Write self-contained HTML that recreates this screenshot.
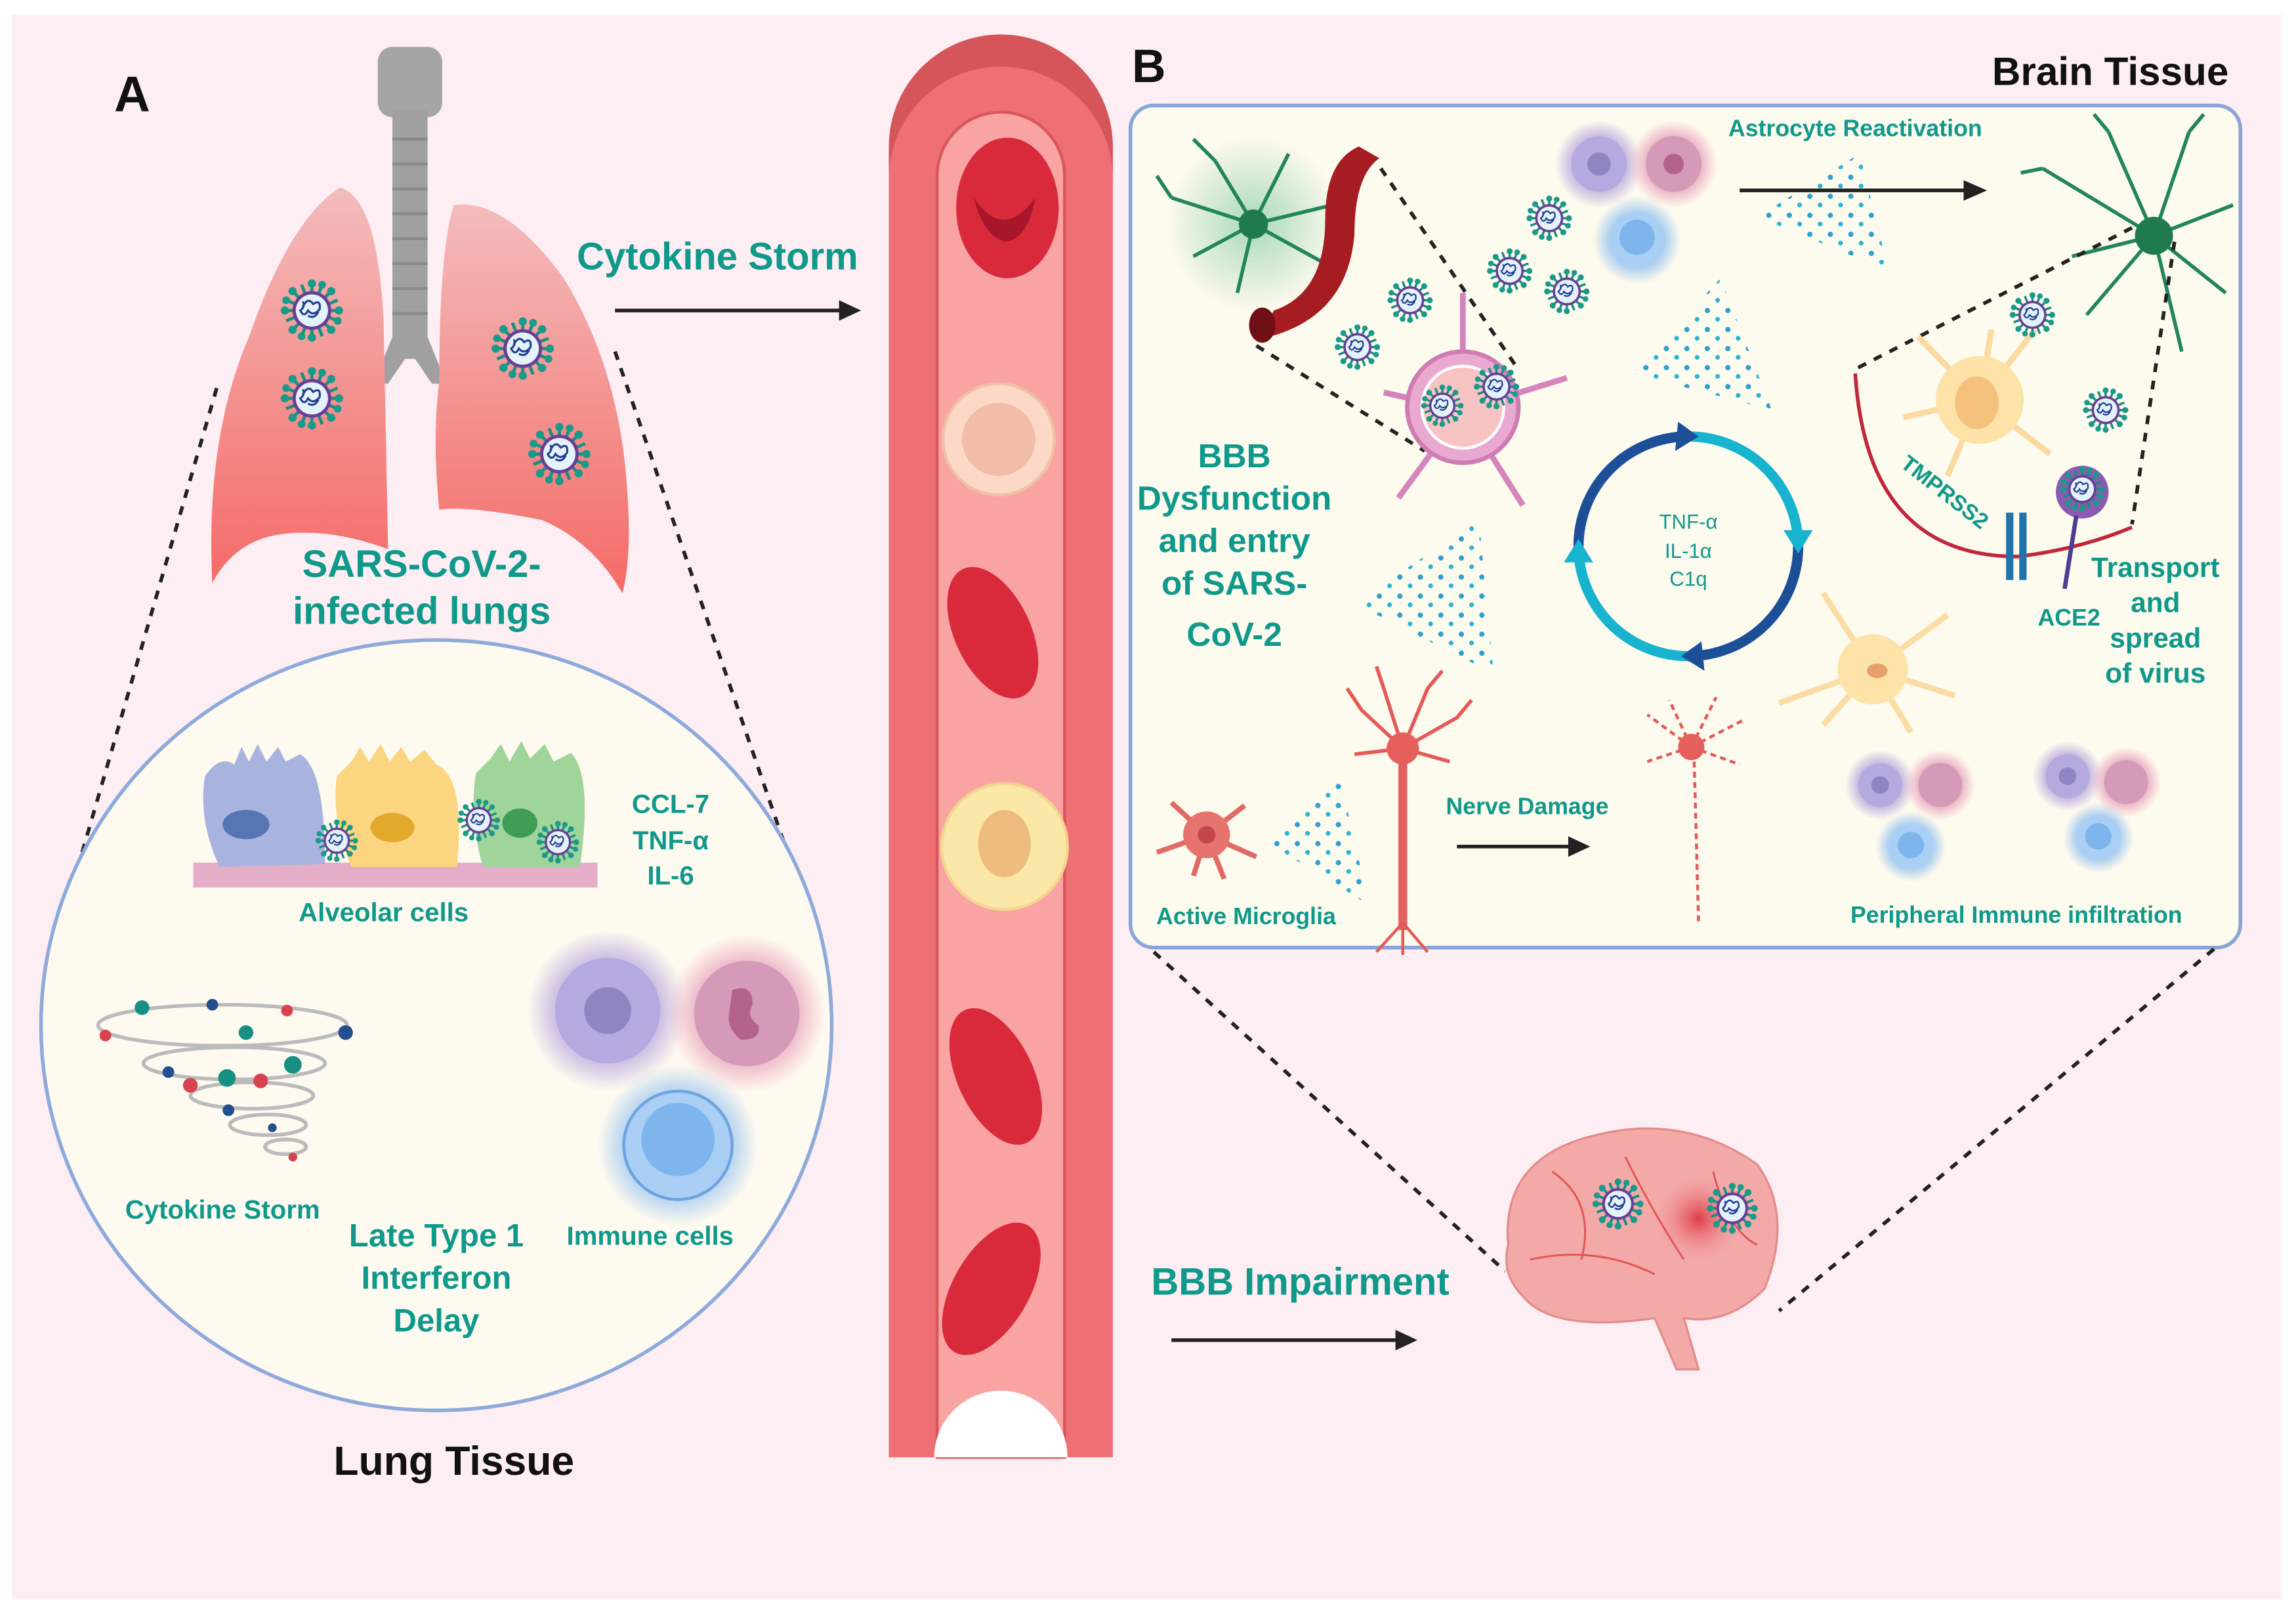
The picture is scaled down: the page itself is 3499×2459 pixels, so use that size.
<!DOCTYPE html>
<html><head><meta charset="utf-8"><style>
html,body{margin:0;padding:0;background:#fff;}
svg{display:block;}
text{font-family:"Liberation Sans",sans-serif;font-weight:bold;}
.t{fill:#10998b;}
</style></head><body>
<svg width="3499" height="2459" viewBox="0 0 1568 1102" preserveAspectRatio="none" xmlns="http://www.w3.org/2000/svg">
<defs>
<linearGradient id="lg" x1="0" y1="0" x2="0" y2="1"><stop offset="0" stop-color="#f3bcbc"/><stop offset="1" stop-color="#f56b67"/></linearGradient>
<radialGradient id="glowP"><stop offset="0.5" stop-color="#b7a5dc"/><stop offset="1" stop-color="#b7a5dc" stop-opacity="0"/></radialGradient>
<radialGradient id="glowR"><stop offset="0.5" stop-color="#d9a0bb"/><stop offset="1" stop-color="#f7a0b8" stop-opacity="0"/></radialGradient>
<radialGradient id="glowB"><stop offset="0.55" stop-color="#9cc6f0"/><stop offset="1" stop-color="#9cc6f0" stop-opacity="0"/></radialGradient>
<radialGradient id="glowG"><stop offset="0" stop-color="#6fc296" stop-opacity="0.6"/><stop offset="1" stop-color="#6fc296" stop-opacity="0"/></radialGradient>
<radialGradient id="redglow"><stop offset="0" stop-color="#d91f2f" stop-opacity="0.8"/><stop offset="1" stop-color="#f3a4a4" stop-opacity="0"/></radialGradient>
<pattern id="dots" width="14" height="13" patternUnits="userSpaceOnUse"><circle cx="4" cy="4" r="1.8" fill="#2f9fd0"/><circle cx="11" cy="10" r="1.6" fill="#2bb3d6"/></pattern>
<symbol id="v" viewBox="-25 -25 50 50">
<g stroke="#1b8f83" stroke-width="2.5"><line x1="0" y1="-22" x2="0" y2="22"/><line x1="-22" y1="0" x2="22" y2="0"/><line x1="-15" y1="-15" x2="15" y2="15"/><line x1="-15" y1="15" x2="15" y2="-15"/><line x1="-8" y1="-20" x2="8" y2="20"/><line x1="-20" y1="-8" x2="20" y2="8"/><line x1="-20" y1="8" x2="20" y2="-8"/><line x1="-8" y1="20" x2="8" y2="-20"/></g>
<g fill="#1b9a8a"><circle cx="0" cy="-21" r="3.2"/><circle cx="0" cy="21" r="3.2"/><circle cx="21" cy="0" r="3.2"/><circle cx="-21" cy="0" r="3.2"/><circle cx="15" cy="15" r="3.2"/><circle cx="-15" cy="-15" r="3.2"/><circle cx="15" cy="-15" r="3.2"/><circle cx="-15" cy="15" r="3.2"/><circle cx="8" cy="-20" r="3"/><circle cx="-8" cy="20" r="3"/><circle cx="20" cy="8" r="3"/><circle cx="-20" cy="-8" r="3"/></g>
<circle r="15" fill="#6a3d96"/><circle r="12.5" fill="#e3f2fb"/>
<path d="M-7 -3 q4 -8 8 -2 q6 -4 5 4 q-5 6 -9 1 q-3 6 -6 0 q4 -3 2 -7 M-3 4 q5 3 8 -3" stroke="#233f8f" stroke-width="1.6" fill="none"/>
</symbol>
</defs>
<rect width="1568" height="1102" fill="#fff"/>
<rect x="8" y="10" width="1550" height="1082" fill="#fdeef4"/>

<text x="78" y="76" font-size="34" fill="#111">A</text>
<rect x="258" y="32" width="44" height="48" rx="10" fill="#a5a5a5"/>
<rect x="268" y="75" width="24" height="170" fill="#a0a0a0"/>
<g stroke="#8a8a8a" stroke-width="2"><line x1="268" y1="95" x2="292" y2="95"/><line x1="268" y1="112" x2="292" y2="112"/><line x1="268" y1="129" x2="292" y2="129"/><line x1="268" y1="146" x2="292" y2="146"/><line x1="268" y1="163" x2="292" y2="163"/><line x1="268" y1="180" x2="292" y2="180"/><line x1="268" y1="197" x2="292" y2="197"/><line x1="268" y1="214" x2="292" y2="214"/></g>
<path d="M268 230 L255 262 L265 262 L280 240 L295 262 L305 262 L292 230 Z" fill="#a0a0a0"/>
<path d="M232 128 Q258 135 262 220 L265 375 Q225 360 190 365 Q160 370 145 398 Q140 300 170 230 Q198 150 232 128Z" fill="url(#lg)"/>
<path d="M310 140 Q345 135 385 190 Q422 250 428 330 Q432 380 425 405 Q405 370 370 355 Q320 345 300 348 Q295 300 300 260 Q300 170 310 140Z" fill="url(#lg)"/>
<use href="#v" x="191" y="190" width="44" height="44"/>
<use href="#v" x="191" y="250" width="44" height="44"/>
<use href="#v" x="335" y="216" width="44" height="44"/>
<use href="#v" x="360" y="288" width="44" height="44"/>
<text class="t" x="288" y="394" font-size="26" text-anchor="middle">SARS-CoV-2-</text>
<text class="t" x="288" y="426" font-size="26" text-anchor="middle">infected lungs</text>
<path d="M148 265 L48 610" stroke="#222" stroke-width="2.5" stroke-dasharray="6,6" fill="none"/>
<path d="M420 240 L548 612" stroke="#222" stroke-width="2.5" stroke-dasharray="6,6" fill="none"/>
<ellipse cx="298" cy="700" rx="270" ry="263" fill="#fefaf0" stroke="#8eaadb" stroke-width="2.5"/>
<rect x="132" y="589" width="276" height="17" fill="#e4adc8"/>
<path d="M140 530 Q150 515 160 522 L165 510 L170 520 L176 508 L182 520 L190 510 L195 520 L205 515 Q222 525 222 590 L150 592 Q135 560 140 530Z" fill="#a9b4de"/>
<ellipse cx="168" cy="563" rx="16" ry="10" fill="#5575b3"/>
<path d="M230 530 L240 520 L246 510 L252 520 L260 508 L266 520 L274 510 L280 520 L290 512 L298 522 Q318 530 312 592 L240 592 Q226 560 230 530Z" fill="#fbd57f"/>
<ellipse cx="268" cy="565" rx="15" ry="10" fill="#e3a92c"/>
<path d="M325 528 L335 518 L342 508 L348 520 L356 506 L362 518 L372 508 L378 520 L390 514 Q405 530 396 592 L330 592 Q320 560 325 528Z" fill="#9fd49b"/>
<ellipse cx="355" cy="562" rx="12" ry="10" fill="#3f9d55"/>
<use href="#v" x="215" y="559" width="30" height="30"/>
<use href="#v" x="312" y="545" width="30" height="30"/>
<use href="#v" x="366" y="560" width="30" height="30"/>
<text class="t" x="458" y="555" font-size="18" text-anchor="middle">CCL-7</text>
<text class="t" x="458" y="580" font-size="18" text-anchor="middle">TNF-α</text>
<text class="t" x="458" y="604" font-size="18" text-anchor="middle">IL-6</text>
<text class="t" x="262" y="629" font-size="18" text-anchor="middle">Alveolar cells</text>
<g fill="none" stroke="#bbb" stroke-width="2.5">
<ellipse cx="152" cy="700" rx="85" ry="14"/><ellipse cx="160" cy="726" rx="62" ry="11"/><ellipse cx="172" cy="748" rx="42" ry="9"/><ellipse cx="183" cy="768" rx="26" ry="7"/><ellipse cx="195" cy="783" rx="14" ry="5"/></g>
<g><circle cx="97" cy="688" r="5" fill="#178f83"/><circle cx="145" cy="686" r="4" fill="#244f8f"/><circle cx="196" cy="690" r="4" fill="#d9434f"/><circle cx="236" cy="705" r="5" fill="#244f8f"/><circle cx="72" cy="707" r="4" fill="#d9434f"/><circle cx="168" cy="705" r="5" fill="#178f83"/><circle cx="200" cy="727" r="6" fill="#178f83"/><circle cx="155" cy="736" r="6" fill="#178f83"/><circle cx="178" cy="738" r="5" fill="#d9434f"/><circle cx="130" cy="741" r="5" fill="#d9434f"/><circle cx="156" cy="758" r="4" fill="#244f8f"/><circle cx="186" cy="770" r="3" fill="#244f8f"/><circle cx="200" cy="790" r="3" fill="#d9434f"/><circle cx="115" cy="732" r="4" fill="#244f8f"/></g>
<text class="t" x="152" y="832" font-size="18" text-anchor="middle">Cytokine Storm</text>
<text class="t" x="298" y="851" font-size="22" text-anchor="middle">Late Type 1</text>
<text class="t" x="298" y="880" font-size="22" text-anchor="middle">Interferon</text>
<text class="t" x="298" y="909" font-size="22" text-anchor="middle">Delay</text>
<text class="t" x="444" y="850" font-size="18" text-anchor="middle">Immune cells</text>
<circle cx="415" cy="690" r="55" fill="url(#glowP)"/><circle cx="415" cy="690" r="36" fill="#b4aadf"/><circle cx="415" cy="690" r="16" fill="#8f85c2"/>
<circle cx="510" cy="692" r="54" fill="url(#glowR)"/><circle cx="510" cy="692" r="36" fill="#d59ab8"/><path d="M500 676 q14 -5 14 10 q-5 8 4 14 q2 10 -12 10 q-10 -8 -8 -18z" fill="#b3638b"/>
<circle cx="463" cy="782" r="55" fill="url(#glowB)"/><circle cx="463" cy="782" r="37" fill="#a9cff5" stroke="#6ea3e1" stroke-width="2"/><circle cx="463" cy="778" r="25" fill="#7db5ec"/>
<text x="310" y="1007" font-size="28" fill="#111" text-anchor="middle">Lung Tissue</text>

<text class="t" x="490" y="184" font-size="26" text-anchor="middle">Cytokine Storm</text>
<line x1="420" y1="212" x2="575" y2="212" stroke="#222" stroke-width="2.5"/><path d="M588 212 L573 205 L573 219Z" fill="#222"/>

<path d="M607 995 L607 120 A76 76 0 0 1 760 120 L760 995Z" fill="#ee6f74"/>
<path d="M607 100 A76 76 0 0 1 760 100 L760 122 A76 76 0 0 0 607 122Z" fill="#d5555a"/>
<path d="M640 995 L640 120 A43 43 0 0 1 727 120 L727 995Z" fill="#f9a3a2" stroke="#d9565b" stroke-width="2"/>
<path d="M638 995 A45 45 0 0 1 729 995 Z" fill="#fff"/>
<ellipse cx="688" cy="142" rx="35" ry="48" fill="#d92a3c"/><path d="M665 135 q20 30 42 0 q-5 28 -20 30 q-15 -3 -22 -30z" fill="#a8162a"/>
<circle cx="682" cy="300" r="38" fill="#fbd9c6" stroke="#f0c0a8" stroke-width="2"/><circle cx="682" cy="300" r="25" fill="#f1bda8"/>
<ellipse cx="678" cy="432" rx="26" ry="48" transform="rotate(-25 678 432)" fill="#d92a3c"/>
<circle cx="686" cy="578" r="43" fill="#fbe7a8" stroke="#f2d690" stroke-width="2"/><ellipse cx="686" cy="576" rx="18" ry="23" fill="#eebc7c"/>
<ellipse cx="680" cy="735" rx="26" ry="50" transform="rotate(-25 680 735)" fill="#d92a3c"/>
<ellipse cx="677" cy="880" rx="26" ry="50" transform="rotate(30 677 880)" fill="#d92a3c"/>

<text x="773" y="56" font-size="32" fill="#111">B</text>
<text x="1522" y="58" font-size="27" fill="#111" text-anchor="end">Brain Tissue</text>
<rect x="772" y="72" width="758" height="575" rx="16" fill="#fdfaee" stroke="#87a6d6" stroke-width="2.5"/>

<circle cx="856" cy="153" r="60" fill="url(#glowG)"/>
<g stroke="#23855a" stroke-width="2.5" fill="none"><path d="M856 153 L800 135 M856 153 L815 175 M856 153 L830 110 M856 153 L880 105 M856 153 L910 140 M856 153 L905 180 M856 153 L845 200 M800 135 L790 120 M830 110 L815 95"/></g>
<circle cx="856" cy="153" r="10" fill="#1f7a50"/>
<path d="M928 100 Q905 110 905 150 Q905 200 870 212 L858 232 Q920 220 925 160 Q925 120 942 108Z" fill="#a51d23"/>
<ellipse cx="862" cy="222" rx="9" ry="12" fill="#6e1016"/>
<path d="M943 115 L1036 251" stroke="#222" stroke-width="2.5" stroke-dasharray="6,6"/>
<path d="M858 236 L973 308" stroke="#222" stroke-width="2.5" stroke-dasharray="6,6"/>
<g stroke="#d485bb" stroke-width="4"><line x1="999" y1="280" x2="999" y2="200"/><line x1="999" y1="280" x2="945" y2="268"/><line x1="999" y1="280" x2="1070" y2="258"/><line x1="999" y1="280" x2="955" y2="340"/><line x1="999" y1="280" x2="1040" y2="345"/></g>
<circle cx="999" cy="278" r="38" fill="#e9a9d1" stroke="#cf7cb3" stroke-width="3"/><circle cx="999" cy="278" r="28" fill="#f8c3c3" stroke="#fff" stroke-width="2"/>
<use href="#v" x="970" y="262" width="30" height="30"/>
<use href="#v" x="1006" y="248" width="32" height="32"/>
<use href="#v" x="1042" y="133" width="32" height="32"/>
<use href="#v" x="1015" y="169" width="32" height="32"/>
<use href="#v" x="1054" y="183" width="32" height="32"/>
<use href="#v" x="947" y="189" width="32" height="32"/>
<use href="#v" x="911" y="221" width="32" height="32"/>
<circle cx="1092" cy="112" r="30" fill="url(#glowP)"/><circle cx="1092" cy="112" r="19" fill="#b4aadf"/><circle cx="1092" cy="112" r="8" fill="#8f85c2"/>
<circle cx="1143" cy="112" r="30" fill="url(#glowR)"/><circle cx="1143" cy="112" r="19" fill="#d59ab8"/><circle cx="1143" cy="112" r="7" fill="#b3638b"/>
<circle cx="1118" cy="164" r="30" fill="url(#glowB)"/><circle cx="1118" cy="164" r="19" fill="#a9cff5"/><circle cx="1118" cy="162" r="12" fill="#7db5ec"/>
<text class="t" x="1267" y="93" font-size="16" text-anchor="middle">Astrocyte Reactivation</text>
<line x1="1188" y1="130" x2="1342" y2="130" stroke="#222" stroke-width="2.5"/><path d="M1357 130 L1341 123 L1341 137Z" fill="#222"/>
<polygon points="1200,148 1270,105 1290,185" fill="url(#dots)"/>
<polygon points="1115,255 1175,190 1210,280" fill="url(#dots)"/>
<polygon points="925,412 1010,355 1020,460" fill="url(#dots)"/>
<polygon points="865,575 915,530 935,618" fill="url(#dots)"/>
<g stroke="#23855a" stroke-width="2.5" fill="none"><path d="M1471 161 L1395 115 M1471 161 L1440 90 M1471 161 L1495 90 M1471 161 L1525 140 M1471 161 L1520 200 M1471 161 L1490 240 M1471 161 L1425 215 M1471 161 L1415 175 M1395 115 L1380 118 M1440 90 L1430 78 M1495 90 L1505 78"/></g>
<circle cx="1471" cy="161" r="13" fill="#1f7a50"/>
<path d="M1269 251 L1461 153" stroke="#222" stroke-width="2.5" stroke-dasharray="6,6"/>
<path d="M1485 165 L1456 358" stroke="#222" stroke-width="2.5" stroke-dasharray="6,6"/>
<path d="M1267 255 Q1275 380 1378 380 Q1420 375 1456 360" stroke="#c0283a" stroke-width="2.5" fill="none"/>
<text x="1325" y="340" font-size="15" fill="#10998b" transform="rotate(38 1325 340)" text-anchor="middle">TMPRSS2</text>
<g stroke="#fbd9a0" stroke-width="4"><line x1="1352" y1="273" x2="1310" y2="230"/><line x1="1352" y1="273" x2="1390" y2="225"/><line x1="1352" y1="273" x2="1300" y2="285"/><line x1="1352" y1="273" x2="1400" y2="310"/><line x1="1352" y1="273" x2="1330" y2="325"/><line x1="1352" y1="273" x2="1360" y2="225"/></g>
<circle cx="1352" cy="273" r="30" fill="#fde3a8"/><ellipse cx="1350" cy="275" rx="15" ry="18" fill="#f6c07d"/>
<use href="#v" x="1372" y="199" width="32" height="32"/>
<use href="#v" x="1422" y="264" width="32" height="32"/>
<circle cx="1422" cy="336" r="18" fill="#8a5bb0"/>
<use href="#v" x="1406" y="318" width="32" height="32"/>
<line x1="1418" y1="352" x2="1410" y2="402" stroke="#4b3d8f" stroke-width="3"/>
<rect x="1370" y="350" width="5" height="46" fill="#2073a8"/><rect x="1379" y="350" width="5" height="46" fill="#2073a8"/>
<text class="t" x="1413" y="427" font-size="16" text-anchor="middle">ACE2</text>
<text class="t" x="1472" y="394" font-size="19" text-anchor="middle">Transport</text>
<text class="t" x="1472" y="418" font-size="19" text-anchor="middle">and</text>
<text class="t" x="1472" y="442" font-size="19" text-anchor="middle">spread</text>
<text class="t" x="1472" y="466" font-size="19" text-anchor="middle">of virus</text>
<text class="t" x="843" y="319" font-size="23" text-anchor="middle">BBB</text>
<text class="t" x="843" y="348" font-size="23" text-anchor="middle">Dysfunction</text>
<text class="t" x="843" y="377" font-size="23" text-anchor="middle">and entry</text>
<text class="t" x="843" y="406" font-size="23" text-anchor="middle">of SARS-</text>
<text class="t" x="843" y="441" font-size="23" text-anchor="middle">CoV-2</text>
<path d="M1153 298 A75 75 0 0 1 1228 373" stroke="#17b3cf" stroke-width="7" fill="none"/>
<path d="M1228 373 A75 75 0 0 1 1153 448" stroke="#1d4f99" stroke-width="7" fill="none"/>
<path d="M1153 448 A75 75 0 0 1 1078 373" stroke="#17b3cf" stroke-width="7" fill="none"/>
<path d="M1078 373 A75 75 0 0 1 1153 298" stroke="#1d4f99" stroke-width="7" fill="none"/>
<path d="M1146 288 L1160 298 L1144 308Z" fill="#1d4f99"/>
<path d="M1218 362 L1228 378 L1238 362Z" fill="#17b3cf"/>
<path d="M1162 438 L1148 448 L1164 458Z" fill="#1d4f99"/>
<path d="M1068 384 L1078 368 L1088 384Z" fill="#17b3cf"/>
<text x="1153" y="361" font-size="14" fill="#10998b" text-anchor="middle" style="font-weight:normal">TNF-α</text>
<text x="1153" y="381" font-size="14" fill="#10998b" text-anchor="middle" style="font-weight:normal">IL-1α</text>
<text x="1153" y="400" font-size="14" fill="#10998b" text-anchor="middle" style="font-weight:normal">C1q</text>
<g stroke="#fbdca5" stroke-width="4"><line x1="1279" y1="457" x2="1245" y2="405"/><line x1="1279" y1="457" x2="1330" y2="420"/><line x1="1279" y1="457" x2="1215" y2="480"/><line x1="1279" y1="457" x2="1335" y2="475"/><line x1="1279" y1="457" x2="1305" y2="500"/><line x1="1279" y1="457" x2="1245" y2="495"/></g>
<circle cx="1279" cy="457" r="24" fill="#fde3a8"/><ellipse cx="1282" cy="458" rx="7" ry="5" fill="#e7a26a"/>
<g stroke="#e06a66" stroke-width="3.5"><line x1="824" y1="570" x2="800" y2="548"/><line x1="824" y1="570" x2="850" y2="550"/><line x1="824" y1="570" x2="790" y2="582"/><line x1="824" y1="570" x2="858" y2="585"/><line x1="824" y1="570" x2="815" y2="598"/><line x1="824" y1="570" x2="836" y2="600"/></g>
<circle cx="824" cy="570" r="16" fill="#e7736f"/><circle cx="824" cy="570" r="6" fill="#c4464a"/>
<text class="t" x="851" y="631" font-size="16" text-anchor="middle">Active Microglia</text>
<g stroke="#e45a58" stroke-width="2.5" fill="none"><path d="M958 511 L930 485 L920 470 M958 511 L945 470 L940 455 M958 511 L975 470 L985 458 M958 511 L995 490 L1005 478 M958 511 L925 515 M958 511 L990 520"/></g>
<circle cx="958" cy="511" r="11" fill="#e55f5c"/>
<rect x="955" y="520" width="6" height="115" fill="#e55f5c"/>
<path d="M958 630 L940 650 M958 630 L975 650 M958 632 L958 652" stroke="#e45a58" stroke-width="2"/>
<text class="t" x="1043" y="556" font-size="16" text-anchor="middle">Nerve Damage</text>
<line x1="995" y1="578" x2="1072" y2="578" stroke="#222" stroke-width="2.5"/><path d="M1086 578 L1071 571 L1071 585Z" fill="#222"/>
<g stroke="#e45a58" stroke-width="2" fill="none" stroke-dasharray="4,3"><path d="M1155 510 L1125 488 M1155 510 L1140 478 M1155 510 L1172 476 M1155 510 L1190 492 M1155 510 L1125 520 M1155 510 L1188 522"/><line x1="1157" y1="520" x2="1160" y2="630"/></g>
<circle cx="1155" cy="510" r="9" fill="#e55f5c"/>
<circle cx="1284" cy="536" r="24" fill="url(#glowP)"/><circle cx="1284" cy="536" r="15" fill="#b4aadf"/><circle cx="1284" cy="536" r="6" fill="#8f85c2"/>
<circle cx="1325" cy="536" r="24" fill="url(#glowR)"/><circle cx="1325" cy="536" r="15" fill="#d59ab8"/>
<circle cx="1305" cy="578" r="24" fill="url(#glowB)"/><circle cx="1305" cy="578" r="15" fill="#a9cff5"/><circle cx="1305" cy="577" r="9" fill="#7db5ec"/>
<circle cx="1412" cy="530" r="24" fill="url(#glowP)"/><circle cx="1412" cy="530" r="15" fill="#b4aadf"/><circle cx="1412" cy="530" r="6" fill="#8f85c2"/>
<circle cx="1452" cy="534" r="24" fill="url(#glowR)"/><circle cx="1452" cy="534" r="15" fill="#d59ab8"/>
<circle cx="1433" cy="572" r="24" fill="url(#glowB)"/><circle cx="1433" cy="572" r="15" fill="#a9cff5"/><circle cx="1433" cy="571" r="9" fill="#7db5ec"/>
<text class="t" x="1377" y="630" font-size="16" text-anchor="middle">Peripheral Immune infiltration</text>

<path d="M788 650 L1028 868" stroke="#222" stroke-width="2.5" stroke-dasharray="6,6"/>
<path d="M1512 648 L1215 895" stroke="#222" stroke-width="2.5" stroke-dasharray="6,6"/>
<path d="M1030 850 Q1025 790 1090 775 Q1150 760 1200 795 Q1225 830 1205 880 Q1180 905 1150 900 L1160 935 L1145 935 L1130 900 Q1060 910 1040 885 Q1025 870 1030 850Z" fill="#f4a9a9" stroke="#e48c8c" stroke-width="1.5"/>
<circle cx="1160" cy="832" r="32" fill="url(#redglow)"/>
<g stroke="#e35454" stroke-width="1.3" fill="none"><path d="M1060 800 Q1090 820 1080 860 M1110 790 Q1130 830 1150 860 M1170 800 Q1180 840 1200 850 M1045 860 Q1090 850 1130 870"/></g>
<use href="#v" x="1087" y="804" width="36" height="36"/>
<use href="#v" x="1165" y="807" width="36" height="36"/>
<text class="t" x="888" y="884" font-size="26" text-anchor="middle">BBB Impairment</text>
<line x1="800" y1="915" x2="955" y2="915" stroke="#222" stroke-width="2.5"/><path d="M968 915 L953 908 L953 922Z" fill="#222"/>
</svg>
</body></html>
